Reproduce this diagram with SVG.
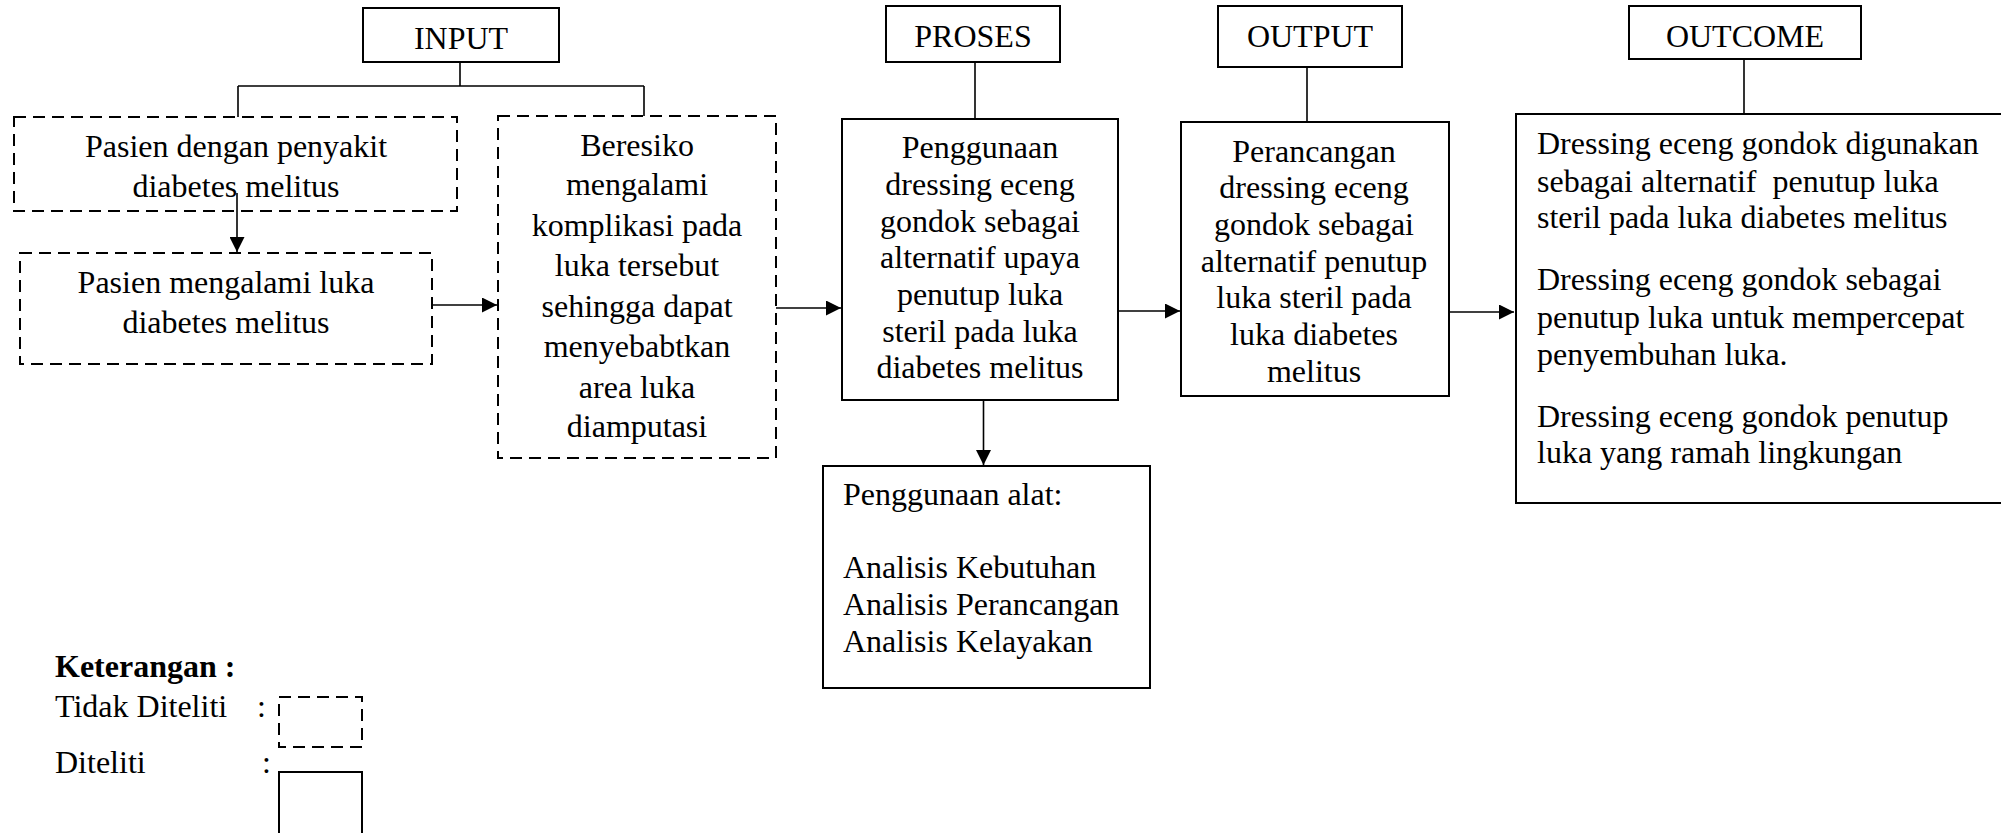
<svg xmlns="http://www.w3.org/2000/svg" width="2001" height="833" viewBox="0 0 2001 833">
<style>
text{font-family:"Liberation Serif","Times New Roman",serif;font-size:32px;fill:#000}
.c{text-anchor:middle}
.b{font-weight:bold}
.box{fill:#fff;stroke:#000;stroke-width:2}
.dash{fill:#fff;stroke:#000;stroke-width:2;stroke-dasharray:12 7}
.ln{fill:none;stroke:#000;stroke-width:1.6}
</style>
<defs>
<marker id="ah" markerUnits="userSpaceOnUse" markerWidth="15" markerHeight="15" refX="15" refY="7.5" orient="auto">
<path d="M0,0 L15,7.5 L0,15 z" fill="#000"/>
</marker>
</defs>
<rect width="2001" height="833" fill="#fff"/>

<g id="input-header"><rect class="box" x="363" y="8" width="196" height="54"/><text class="c" x="461" y="49">INPUT</text></g>
<g id="proses-header"><rect class="box" x="886" y="6" width="174" height="56"/><text class="c" x="973" y="47">PROSES</text></g>
<g id="output-header"><rect class="box" x="1218" y="6" width="184" height="61"/><text class="c" x="1310" y="47">OUTPUT</text></g>
<g id="outcome-header"><rect class="box" x="1629" y="6" width="232" height="53"/><text class="c" x="1745" y="47">OUTCOME</text></g>

<g id="connectors">
<path class="ln" d="M460,62 V86 M238,86 H644 M238,86 V117 M644,86 V116"/>
<path class="ln" d="M237,193 V252" marker-end="url(#ah)"/>
<path class="ln" d="M432,305 H497" marker-end="url(#ah)"/>
<path class="ln" d="M776,308 H841" marker-end="url(#ah)"/>
<path class="ln" d="M975,62 V119"/>
<path class="ln" d="M983.5,400 V465" marker-end="url(#ah)"/>
<path class="ln" d="M1118,311 H1180" marker-end="url(#ah)"/>
<path class="ln" d="M1307,67 V122"/>
<path class="ln" d="M1449,312 H1514" marker-end="url(#ah)"/>
<path class="ln" d="M1744,59 V114"/>
</g>

<g id="pasien-penyakit"><rect class="dash" x="14" y="117" width="443" height="94" fill-opacity="0"/>
<text class="c"><tspan x="236" y="157">Pasien dengan penyakit</tspan><tspan x="236" y="197">diabetes melitus</tspan></text></g>

<g id="pasien-luka"><rect class="dash" x="20" y="253" width="412" height="111"/>
<text class="c"><tspan x="226" y="293">Pasien mengalami luka</tspan><tspan x="226" y="333">diabetes melitus</tspan></text></g>

<g id="beresiko"><rect class="dash" x="498" y="116" width="278" height="342"/>
<text class="c"><tspan x="637" y="156">Beresiko</tspan><tspan x="637" y="195">mengalami</tspan><tspan x="637" y="236">komplikasi pada</tspan><tspan x="637" y="276">luka tersebut</tspan><tspan x="637" y="317">sehingga dapat</tspan><tspan x="637" y="357">menyebabtkan</tspan><tspan x="637" y="398">area luka</tspan><tspan x="637" y="437">diamputasi</tspan></text></g>

<g id="proses"><rect class="box" x="842" y="119" width="276" height="281"/>
<text class="c"><tspan x="980" y="158">Penggunaan</tspan><tspan x="980" y="195">dressing eceng</tspan><tspan x="980" y="232">gondok sebagai</tspan><tspan x="980" y="268">alternatif upaya</tspan><tspan x="980" y="305">penutup luka</tspan><tspan x="980" y="342">steril pada luka</tspan><tspan x="980" y="378">diabetes melitus</tspan></text></g>

<g id="output"><rect class="box" x="1181" y="122" width="268" height="274"/>
<text class="c"><tspan x="1314" y="162">Perancangan</tspan><tspan x="1314" y="198">dressing eceng</tspan><tspan x="1314" y="235">gondok sebagai</tspan><tspan x="1314" y="272">alternatif penutup</tspan><tspan x="1314" y="308">luka steril pada</tspan><tspan x="1314" y="345">luka diabetes</tspan><tspan x="1314" y="382">melitus</tspan></text></g>

<g id="outcome"><rect class="box" x="1516" y="114" width="495" height="389"/>
<text style="white-space:pre"><tspan x="1537" y="154">Dressing eceng gondok digunakan</tspan><tspan x="1537" y="192">sebagai alternatif  penutup luka</tspan><tspan x="1537" y="228">steril pada luka diabetes melitus</tspan><tspan x="1537" y="290">Dressing eceng gondok sebagai</tspan><tspan x="1537" y="328">penutup luka untuk mempercepat</tspan><tspan x="1537" y="365">penyembuhan luka.</tspan><tspan x="1537" y="427">Dressing eceng gondok penutup</tspan><tspan x="1537" y="463">luka yang ramah lingkungan</tspan></text></g>

<g id="alat"><rect class="box" x="823" y="466" width="327" height="222"/>
<text><tspan x="843" y="505">Penggunaan alat:</tspan><tspan x="843" y="578">Analisis Kebutuhan</tspan><tspan x="843" y="615">Analisis Perancangan</tspan><tspan x="843" y="652">Analisis Kelayakan</tspan></text></g>

<g id="legend">
<text class="b" x="55" y="677">Keterangan :</text>
<text x="55" y="717">Tidak Diteliti</text><text x="257" y="717">:</text>
<rect class="dash" x="279" y="697" width="83" height="50"/>
<text x="55" y="773">Diteliti</text><text x="262" y="773">:</text>
<rect class="box" x="279" y="772" width="83" height="65"/>
</g>
</svg>
